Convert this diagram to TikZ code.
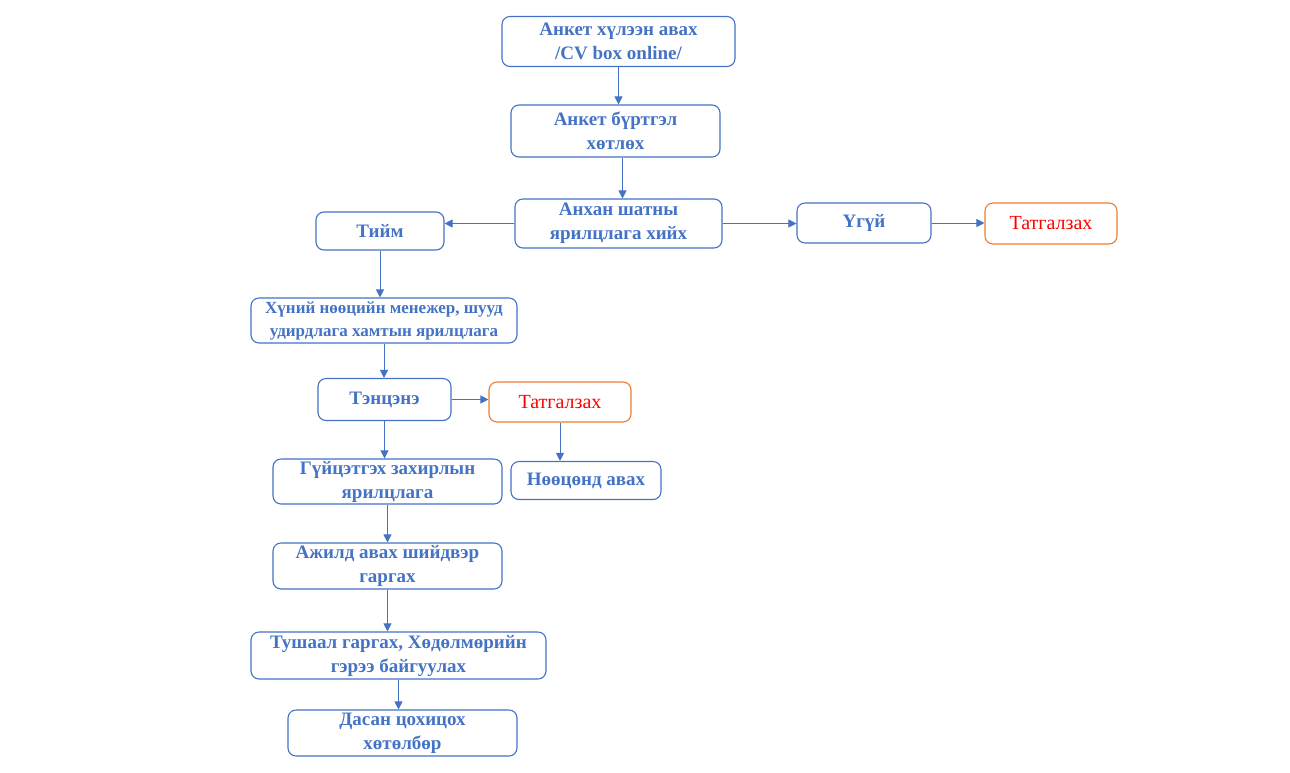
\documentclass[tikz,border=0pt]{standalone}
\usepackage{fontspec}
\setmainfont{Liberation Serif}
\usetikzlibrary{arrows.meta}
\definecolor{flowblue}{HTML}{4472C4}
\definecolor{rejorange}{HTML}{ED7D31}
\begin{document}
\begin{tikzpicture}[x=0.5pt,y=-0.5pt,
  box/.style={draw=flowblue, line width=0.55pt, rounded corners=4pt, align=center,
    inner sep=0pt, text=flowblue, font=\bfseries\fontsize{9.5}{12}\selectfont},
  rejectbox/.style={box, draw=rejorange, text=red, font=\fontsize{10}{12}\selectfont},
  flow/.style={draw=flowblue, line width=0.5pt, -{Triangle[length=4pt,width=4pt]}}]
\useasboundingbox (0,0) rectangle (1290,772);

% main column and branches
\node[box, minimum width=116.5pt, minimum height=25pt] (cv) at (618.5,41.5) {Анкет хүлээн авах\\/CV box online/};
\node[box, minimum width=104.5pt, minimum height=26pt] (reg) at (615.5,131) {Анкет бүртгэл\\хөтлөх};
\node[box, minimum width=103.5pt, minimum height=24.5pt] (first) at (618.5,223.5) {Анхан шатны\\ярилцлага хийх};
\node[box, minimum width=64pt, minimum height=19pt] (yes) at (380,231) {Тийм};
\node[box, minimum width=67pt, minimum height=20pt] (no) at (864,223) {Үгүй};
\node[rejectbox, minimum width=66pt, minimum height=20.5pt] (rej1) at (1051,223.5) {Татгалзах};
\node[box, minimum width=133pt, minimum height=22.5pt,
  font=\bfseries\fontsize{8.5}{11.5}\selectfont] (hr) at (384,320.5) {Хүний нөөцийн менежер, шууд\\удирдлага хамтын ярилцлага};
\node[box, minimum width=66.5pt, minimum height=21pt] (pass) at (384.5,399.5) {Тэнцэнэ};
\node[rejectbox, minimum width=71pt, minimum height=20pt] (rej2) at (560,402) {Татгалзах};
\node[box, minimum width=75pt, minimum height=19pt] (reserve) at (586,480.5) {Нөөцөнд авах};
\node[box, minimum width=114.5pt, minimum height=22.5pt] (ceo) at (387.5,481.5) {Гүйцэтгэх захирлын\\ярилцлага};
\node[box, minimum width=114.5pt, minimum height=23pt] (hire) at (387.5,566) {Ажилд авах шийдвэр\\гаргах};
\node[box, minimum width=147.5pt, minimum height=23.5pt] (order) at (398.5,655.5) {Тушаал гаргах, Хөдөлмөрийн\\гэрээ байгуулах};
\node[box, minimum width=114.5pt, minimum height=23pt] (onboard) at (402.5,733) {Дасан цохицох\\хөтөлбөр};

% connectors
\draw[flow] (cv.south) -- (cv.south |- reg.north);
\draw[flow] ([xshift=3.5pt]reg.south) -- ([xshift=3.5pt]reg.south |- first.north);
\draw[flow] (first.west) -- (first.west -| yes.east);
\draw[flow] (first.east) -- (first.east -| no.west);
\draw[flow] (no.east) -- (no.east -| rej1.west);
\draw[flow] (yes.south) -- (yes.south |- hr.north);
\draw[flow] (hr.south) -- (hr.south |- pass.north);
\draw[flow] (pass.east) -- (pass.east -| rej2.west);
\draw[flow] (rej2.south) -- (rej2.south |- reserve.north);
\draw[flow] (pass.south) -- (pass.south |- ceo.north);
\draw[flow] (ceo.south) -- (ceo.south |- hire.north);
\draw[flow] (hire.south) -- (hire.south |- order.north);
\draw[flow] (order.south) -- (order.south |- onboard.north);
\end{tikzpicture}
\end{document}
